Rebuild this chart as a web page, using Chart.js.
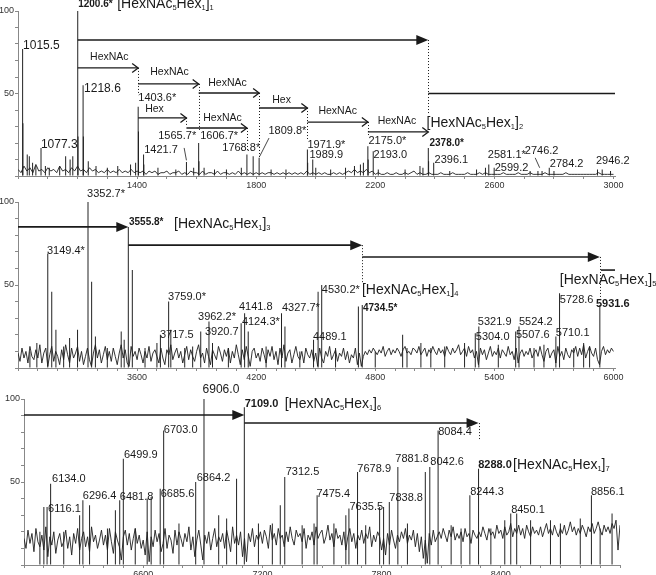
<!DOCTYPE html>
<html>
<head>
<meta charset="utf-8">
<script src="https://cdn.jsdelivr.net/npm/chart.js@4.4.1/dist/chart.umd.min.js"></script>
<style>
  body { margin: 0; background: #fff; }
  #wrap { position: relative; width: 656px; height: 575px; }
  canvas { position: absolute; left: 0; }
</style>
</head>
<body>
<div id="wrap">
  <canvas id="c1" width="656" height="190" style="top:0;width:656px;height:190px"></canvas>
  <canvas id="c2" width="656" height="198" style="top:184px;width:656px;height:198px"></canvas>
  <canvas id="c3" width="656" height="199" style="top:376px;width:656px;height:199px"></canvas>
</div>
<script>
// MALDI spectrum, three m/z ranges

// panel 1: m/z 1000-3000
const p1Mz  = [1015.5, 1016.5, 1031, 1038, 1049, 1060, 1077.3, 1092, 1105, 1140, 1160, 1175, 1184,
  1200.6, 1201.6, 1218.6, 1219.6, 1236, 1262, 1300, 1335, 1378, 1395, 1403.6, 1404.6, 1421.7, 1422.7,
  1470, 1530, 1565.7, 1590, 1606.7, 1607.7, 1625, 1660, 1700, 1750, 1768.8, 1789.8, 1809.8, 1850, 1900,
  1971.9, 1972.9, 1989.9, 2000, 2050, 2100, 2130, 2150, 2160, 2175.0, 2176.0, 2193.0, 2210, 2300, 2350,
  2360, 2378.0, 2379.0, 2396.1, 2450, 2540, 2570, 2581.1, 2599.2, 2720, 2746.2, 2760, 2784.2, 2800,
  2946.2, 2962, 2990];
const p1Int = [77, 32, 13, 12, 8, 6, 17, 6, 5, 6, 12, 10, 12,
  100, 24, 55, 24, 9, 6, 5, 6, 7, 8, 42, 27, 13, 7,
  5, 4, 8.5, 5, 20, 9, 5, 4, 4, 5, 13, 12, 11, 4, 4,
  16, 8, 10, 5, 4, 5, 6, 7, 8, 18, 10, 15, 4, 4, 6,
  5, 17, 9, 8, 3, 4, 5, 7, 5, 3, 3, 3, 5, 3,
  4, 4, 3];
// baselines sampled every 10 m/z from the panel start
const p1Noise = [4, 2, 6, 3, 5, 2, 7, 3, 4, 2,
  5, 3, 4, 2, 6, 3, 4, 2, 5, 3,
  6, 3, 4, 2, 5, 3, 4, 2, 3, 2,
  4, 2, 3, 2, 4, 2, 3, 2, 4, 2,
  3, 2, 3, 1, 3, 2, 3, 1, 2, 2,
  3, 1, 2, 2, 3, 1, 2, 1, 3, 2,
  2, 1, 3, 1, 2, 2, 1, 3, 1, 2,
  2, 1, 2, 1, 3, 1, 2, 1, 2, 1,
  2, 1, 2, 1, 2, 2, 1, 2, 1, 2,
  1, 2, 1, 2, 1, 2, 1, 3, 1, 2,
  1, 2, 1, 2, 1, 1, 2, 1, 2, 1,
  2, 3, 2, 4, 2, 3, 2, 4, 2, 3,
  1, 2, 1, 1, 2, 1, 1, 2, 1, 1,
  2, 1, 2, 3, 1, 2, 1, 1, 2, 1,
  1, 1, 2, 1, 1, 1, 2, 1, 1, 1,
  1, 2, 1, 1, 1, 2, 1, 2, 1, 1,
  1, 1, 1, 2, 1, 1, 1, 1, 2, 1,
  1, 1, 2, 1, 1, 1, 1, 2, 1, 1,
  1, 1, 1, 1, 2, 1, 1, 1, 1, 1,
  1, 1, 1, 1, 1, 2, 1, 1, 1, 1,
  1];

// panel 2: m/z 3000-6000
const p2Mz  = [3060, 3095, 3150, 3170, 3191, 3230, 3260, 3300, 3352.7, 3371, 3390, 3450, 3520, 3535,
  3555.8, 3576, 3640, 3700, 3717.5, 3759.0, 3770, 3840, 3880, 3920.7, 3962.2, 3980, 4060, 4124.3,
  4141.8, 4160, 4250, 4327.7, 4345, 4420, 4489.1, 4512, 4530.2, 4600, 4715, 4734.5, 4800, 4938, 4960,
  5030, 5080, 5150, 5250, 5304.0, 5321.9, 5420, 5507.6, 5524.2, 5600, 5650, 5710.1, 5728.6, 5800,
  5850, 5880, 5931.6];
const p2Int = [10, 15, 69, 46, 23, 13, 18, 23, 100, 52, 19, 12, 22, 17,
  85, 59, 12, 15, 20, 40, 23, 12, 13, 22, 28, 15, 12, 27,
  33, 22, 13, 33, 25, 10, 17, 46, 50, 12, 37, 38, 10, 20, 12,
  15, 12, 13, 15, 21, 25, 14, 22, 25, 12, 14, 19, 45, 12,
  15, 13, 38];
const p2Noise = [9, 4, 12, 6, 10, 3, 13, 7, 5, 11,
  6, 14, 3, 9, 12, 1, 8, 13, 4, 10,
  7, 2, 11, 5, 14, 8, 3, 12, 6, 9,
  13, 4, 10, 2, 7, 12, 5, 1, 9, 14,
  6, 11, 3, 8, 13, 5, 10, 4, 12, 7,
  2, 9, 14, 6, 11, 3, 1, 13, 7, 10,
  5, 12, 8, 3, 10, 6, 13, 4, 9, 11,
  7, 3, 12, 6, 2, 11, 8, 14, 5, 9,
  12, 6, 10, 3, 8, 13, 5, 11, 7, 4,
  10, 14, 6, 9, 3, 12, 7, 2, 11, 8,
  5, 13, 9, 4, 11, 7, 12, 3, 10, 6,
  14, 8, 2, 11, 5, 13, 7, 1, 10, 12,
  6, 9, 4, 12, 8, 3, 11, 7, 13, 5,
  10, 2, 12, 6, 14, 4, 9, 11, 3, 8,
  13, 7, 5, 10, 3, 12, 8, 6, 11, 4,
  9, 1, 12, 6, 3, 10, 7, 13, 5, 8,
  11, 4, 9, 7, 12, 5, 10, 3, 8, 6,
  12, 2, 9, 1, 7, 10, 8, 11, 9, 12,
  10, 8, 11, 9, 13, 7, 10, 12, 8, 11,
  9, 12, 10, 7, 11, 13, 9, 10, 8, 12,
  11, 9, 13, 8, 10, 12, 7, 11, 9, 13,
  10, 8, 12, 9, 11, 7, 13, 10, 8, 12,
  9, 11, 14, 8, 10, 12, 7, 13, 9, 11,
  6, 10, 2, 12, 8, 11, 5, 9, 13, 7,
  10, 8, 12, 6, 11, 9, 7, 13, 8, 10,
  5, 12, 3, 9, 11, 7, 10, 8, 12, 6,
  9, 11, 7, 13, 8, 4, 10, 12, 6, 9,
  11, 3, 13, 7, 10, 5, 12, 8, 6, 11,
  9, 13, 7, 12, 8, 14, 6, 10, 13, 9,
  7, 12, 5, 2, 10, 13, 8, 11, 9, 12,
  10];

// panel 3: m/z 6000-9000
const p3Mz  = [6080, 6100, 6116.1, 6134.0, 6200, 6280, 6296.4, 6330, 6420, 6460, 6481.8, 6499.9, 6560,
  6620, 6640, 6685.6, 6703.0, 6780, 6864.2, 6906.0, 6980, 7020, 7070, 7109.0, 7180, 7250, 7290, 7312.5,
  7400, 7460, 7475.4, 7560, 7620, 7635.5, 7678.9, 7720, 7790, 7810, 7838.8, 7881.8, 7930, 8020, 8042.6,
  8084.4, 8150, 8200, 8244.3, 8288.0, 8350, 8420, 8450.1, 8480, 8550, 8650, 8700, 8800, 8856.1, 8900, 8960];
const p3Int = [20, 35, 35, 49, 20, 30, 39, 36, 22, 33, 39, 64, 22,
  40, 41, 46, 81, 25, 50, 100, 30, 28, 52, 95, 25, 25, 36, 53,
  24, 25, 42, 25, 30, 34, 56, 24, 35, 35, 38, 59, 25, 56, 59,
  81, 24, 22, 42, 58, 22, 27, 31, 31, 27, 27, 25, 28, 42, 22, 31];
const p3Noise = [16, 10, 21, 13, 19, 8, 22, 14, 11, 18,
  9, 23, 5, 17, 12, 20, 7, 15, 19, 11,
  14, 21, 10, 17, 6, 19, 13, 22, 9, 16,
  20, 11, 17, 8, 23, 14, 18, 10, 15, 21,
  12, 18, 9, 22, 14, 7, 20, 15, 11, 3,
  17, 21, 12, 19, 9, 16, 22, 13, 18, 10,
  15, 6, 20, 2, 17, 11, 21, 14, 19, 8,
  13, 22, 10, 18, 15, 7, 21, 12, 20, 16,
  11, 19, 14, 23, 9, 17, 5, 15, 21, 12,
  3, 18, 13, 20, 9, 16, 22, 11, 17, 14,
  19, 10, 21, 15, 8, 23, 13, 18, 12, 20,
  5, 16, 2, 19, 14, 22, 11, 18, 15, 20,
  13, 21, 17, 10, 24, 15, 19, 12, 22, 16,
  18, 11, 20, 14, 23, 16, 12, 21, 17, 19,
  14, 22, 10, 18, 15, 20, 12, 23, 16, 19,
  21, 13, 17, 24, 15, 19, 11, 22, 16, 18,
  12, 20, 9, 17, 22, 14, 19, 10, 18, 15,
  21, 13, 19, 16, 23, 11, 18, 14, 20, 17,
  9, 16, 6, 19, 12, 21, 15, 10, 18, 14,
  20, 16, 22, 13, 18, 15, 21, 11, 19, 8,
  17, 4, 15, 1, 19, 12, 21, 14, 17, 20,
  16, 22, 18, 14, 21, 17, 23, 15, 19, 16,
  20, 14, 22, 17, 19, 13, 21, 18, 16, 20,
  17, 23, 19, 15, 22, 18, 20, 16, 24, 19,
  21, 16, 23, 18, 20, 25, 17, 22, 19, 24,
  18, 22, 16, 24, 20, 17, 23, 19, 21, 18,
  23, 17, 21, 25, 19, 22, 18, 24, 20, 17,
  22, 19, 24, 18, 21, 26, 20, 23, 18, 22,
  19, 24, 21, 17, 23, 20, 25, 19, 22, 26,
  21, 18, 24, 20, 23, 19, 25, 22, 27, 9,
  24];
const noiseStep = 10;

const FONT = 'Arial, "Liberation Sans", sans-serif';
const INK = '#1a1a1a';

// annotations (m/z, relative intensity)
const p1Notes = {
  labels: [
    { x: 1017, y: 79, t: '1015.5', size: 12 },
    { x: 1077, y: 19, t: '1077.3', size: 12 },
    { x: 1202, y: 104, t: '1200.6*', bold: true },
    { x: 1222, y: 53, t: '1218.6', size: 12 },
    { x: 1404, y: 47, t: '1403.6*' },
    { x: 1424, y: 16, t: '1421.7' },
    { x: 1471, y: 24, t: '1565.7*' },
    { x: 1612, y: 24, t: '1606.7*' },
    { x: 1686, y: 17, t: '1768.8*' },
    { x: 1841, y: 27, t: '1809.8*' },
    { x: 1972, y: 19, t: '1971.9*' },
    { x: 1979, y: 13, t: '1989.9' },
    { x: 2177, y: 21, t: '2175.0*' },
    { x: 2194, y: 13, t: '2193.0' },
    { x: 2382, y: 20, t: '2378.0*', bold: true },
    { x: 2399, y: 10, t: '2396.1' },
    { x: 2578, y: 13, t: '2581.1*' },
    { x: 2601, y: 5, t: '2599.2' },
    { x: 2702, y: 15, t: '2746.2' },
    { x: 2786, y: 7, t: '2784.2' },
    { x: 2941, y: 9, t: '2946.2' },
    { x: 1242, y: 72, t: 'HexNAc', size: 10.5 },
    { x: 1444, y: 63, t: 'HexNAc', size: 10.5 },
    { x: 1639, y: 56.4, t: 'HexNAc', size: 10.5 },
    { x: 1854, y: 46, t: 'Hex', size: 10.5 },
    { x: 2009, y: 39.4, t: 'HexNAc', size: 10.5 },
    { x: 2208, y: 33.3, t: 'HexNAc', size: 10.5 },
    { x: 1427, y: 40.6, t: 'Hex', size: 10.5 },
    { x: 1622, y: 35.2, t: 'HexNAc', size: 10.5 }
  ],
  glycans: [
    { x: 1333, y: 104, n: '1' },
    { x: 2372, y: 32, n: '2' }
  ],
  arrows: [
    { x1: 1200.6, x2: 2378.0, y: 82.4, head: 'fill' },
    { x1: 1200.6, x2: 1403.6, y: 65.5, head: 'open' },
    { x1: 1403.6, x2: 1606.7, y: 55.8, head: 'open' },
    { x1: 1606.7, x2: 1809.8, y: 50.3, head: 'open' },
    { x1: 1809.8, x2: 1971.9, y: 41.2, head: 'open' },
    { x1: 1971.9, x2: 2175.0, y: 32.7, head: 'open' },
    { x1: 2175.0, x2: 2378.0, y: 26.7, head: 'open' },
    { x1: 1403.6, x2: 1565.7, y: 35.2, head: 'open' },
    { x1: 1565.7, x2: 1768.8, y: 29.1, head: 'open' }
  ],
  lines: [ { x1: 2378.0, x2: 3005, y: 50 } ],
  dotted: [
    { x: 2378.0, y1: 82.4, y2: 37 },
    { x: 1403.6, y1: 65.5, y2: 49 },
    { x: 1606.7, y1: 55.8, y2: 27 },
    { x: 1809.8, y1: 50.3, y2: 11 },
    { x: 1971.9, y1: 41.2, y2: 22 },
    { x: 2175.0, y1: 32.7, y2: 24 },
    { x: 1565.7, y1: 35.2, y2: 30 },
    { x: 1768.8, y1: 29.1, y2: 15 }
  ],
  leaders: [
    { x1: 1558, y1: 17, x2: 1565.7, y2: 9.5 },
    { x1: 1843, y1: 23, x2: 1812, y2: 12 },
    { x1: 2737, y1: 11, x2: 2752, y2: 5 }
  ]
};

const p2Notes = {
  labels: [
    { x: 3348, y: 104.8, t: '3352.7*' },
    { x: 3146, y: 70.5, t: '3149.4*' },
    { x: 3559, y: 88, t: '3555.8*', bold: true },
    { x: 3756, y: 42.8, t: '3759.0*' },
    { x: 3715, y: 19.9, t: '3717.5' },
    { x: 3907, y: 30.7, t: '3962.2*' },
    { x: 3942, y: 21.7, t: '3920.7' },
    { x: 4113, y: 36.7, t: '4141.8' },
    { x: 4128, y: 27.7, t: '4124.3*' },
    { x: 4330, y: 36.1, t: '4327.7*' },
    { x: 4486, y: 18.7, t: '4489.1' },
    { x: 4531, y: 47, t: '4530.2*' },
    { x: 4738, y: 36.1, t: '4734.5*', bold: true },
    { x: 5317, y: 27.7, t: '5321.9' },
    { x: 5307, y: 18.7, t: '5304.0' },
    { x: 5524, y: 27.7, t: '5524.2' },
    { x: 5509, y: 19.9, t: '5507.6' },
    { x: 5730, y: 41, t: '5728.6' },
    { x: 5710, y: 21.1, t: '5710.1' },
    { x: 5912, y: 38.6, t: '5931.6', bold: true, size: 11 }
  ],
  glycans: [
    { x: 3786, y: 86.7, n: '3' },
    { x: 4733, y: 47, n: '4' },
    { x: 5730, y: 53, n: '5' }
  ],
  arrows: [
    { x1: 3000, x2: 3555.8, y: 85, head: 'fill' },
    { x1: 3555.8, x2: 4734.5, y: 74, head: 'fill' },
    { x1: 4734.5, x2: 5931.6, y: 66.9, head: 'fill' }
  ],
  lines: [ { x1: 5937, x2: 6008, y: 59 } ],
  dotted: [
    { x: 4734.5, y1: 74, y2: 51 },
    { x: 5931.6, y1: 66.9, y2: 41 }
  ],
  leaders: []
};

const p3Notes = {
  labels: [
    { x: 6899, y: 105.4, t: '6906.0', size: 12 },
    { x: 7111, y: 97, t: '7109.0', bold: true, size: 11 },
    { x: 6704, y: 81.3, t: '6703.0' },
    { x: 6503, y: 66.3, t: '6499.9' },
    { x: 6141, y: 51.8, t: '6134.0' },
    { x: 6869, y: 52.4, t: '6864.2' },
    { x: 7317, y: 56, t: '7312.5' },
    { x: 6296, y: 41.6, t: '6296.4' },
    { x: 6688, y: 42.8, t: '6685.6' },
    { x: 6121, y: 33.7, t: '6116.1' },
    { x: 6482, y: 41, t: '6481.8' },
    { x: 7472, y: 42.8, t: '7475.4' },
    { x: 7638, y: 35, t: '7635.5' },
    { x: 7678, y: 57.8, t: '7678.9' },
    { x: 7869, y: 63.9, t: '7881.8' },
    { x: 8045, y: 62, t: '8042.6' },
    { x: 7839, y: 40.4, t: '7838.8' },
    { x: 8085, y: 80.1, t: '8084.4' },
    { x: 8286, y: 60.2, t: '8288.0', bold: true, size: 11 },
    { x: 8246, y: 44, t: '8244.3' },
    { x: 8452, y: 33.1, t: '8450.1' },
    { x: 8854, y: 44, t: '8856.1' }
  ],
  glycans: [
    { x: 7312, y: 97, n: '6' },
    { x: 8462, y: 60.2, n: '7' }
  ],
  arrows: [
    { x1: 6000, x2: 7109.0, y: 90.4, head: 'fill' },
    { x1: 7109.0, x2: 8288.0, y: 85.5, head: 'fill' }
  ],
  lines: [],
  dotted: [ { x: 8288.0, y1: 85.5, y2: 75 } ],
  leaders: []
};

// draws arrows, dotted drops and peak labels on top of the spectrum
const notesPlugin = {
  id: 'notes',
  afterDatasetsDraw(chart, args, opts) {
    const ctx = chart.ctx;
    const px = v => chart.scales.x.getPixelForValue(v);
    const py = v => chart.scales.y.getPixelForValue(v);
    ctx.save();
    ctx.strokeStyle = INK;
    ctx.fillStyle = INK;

    ctx.lineWidth = 1;
    ctx.setLineDash([1, 2]);
    (opts.dotted || []).forEach(d => {
      const x = Math.round(px(d.x)) + 0.5;
      ctx.beginPath(); ctx.moveTo(x, py(d.y1)); ctx.lineTo(x, py(d.y2)); ctx.stroke();
    });
    ctx.setLineDash([]);

    ctx.lineWidth = 1.6;
    (opts.lines || []).forEach(l => {
      ctx.beginPath(); ctx.moveTo(px(l.x1), py(l.y)); ctx.lineTo(px(l.x2), py(l.y)); ctx.stroke();
    });

    (opts.arrows || []).forEach(a => {
      const x1 = px(a.x1), x2 = px(a.x2), y = py(a.y);
      if (a.head === 'fill') {
        ctx.lineWidth = 1.6;
        ctx.beginPath(); ctx.moveTo(x1, y); ctx.lineTo(x2 - 8, y); ctx.stroke();
        ctx.beginPath(); ctx.moveTo(x2, y); ctx.lineTo(x2 - 12, y - 5); ctx.lineTo(x2 - 12, y + 5);
        ctx.closePath(); ctx.fill();
      } else {
        ctx.lineWidth = 1.3;
        ctx.beginPath(); ctx.moveTo(x1, y); ctx.lineTo(x2, y); ctx.stroke();
        ctx.beginPath(); ctx.moveTo(x2 - 6, y - 4.5); ctx.lineTo(x2, y); ctx.lineTo(x2 - 6, y + 4.5); ctx.stroke();
      }
    });

    ctx.lineWidth = 0.8;
    (opts.leaders || []).forEach(l => {
      ctx.beginPath(); ctx.moveTo(px(l.x1), py(l.y1)); ctx.lineTo(px(l.x2), py(l.y2)); ctx.stroke();
    });

    ctx.textBaseline = 'middle';
    ctx.textAlign = 'left';
    (opts.labels || []).forEach(l => {
      const size = l.size || (l.bold ? 10 : 11);
      ctx.font = (l.bold ? 'bold ' : '') + size + 'px ' + FONT;
      ctx.fillText(l.t, px(l.x), py(l.y));
    });

    (opts.glycans || []).forEach(g => {
      let x = px(g.x);
      const y = py(g.y);
      const parts = [['[HexNAc', 14, 0], ['5', 7.5, 4], ['Hex', 14, 0], ['1', 7.5, 4], [']', 14, 0], [g.n, 7.5, 4]];
      parts.forEach(p => {
        ctx.font = p[1] + 'px ' + FONT;
        ctx.fillText(p[0], x, y + p[2]);
        x += ctx.measureText(p[0]).width;
      });
    });
    ctx.restore();
  }
};

function makeSpectrum(id, opt) {
  const peaks = opt.mz.map((m, i) => ({ x: m, y: opt.inten[i] }));
  const noise = opt.noise.map((v, i) => ({ x: opt.xMin + i * noiseStep, y: v }));
  return new Chart(document.getElementById(id), {
    type: 'bar',
    data: {
      datasets: [
        { type: 'line', data: noise, borderColor: '#1e1e1e', borderWidth: 0.9,
          pointRadius: 0, tension: 0, fill: false },
        { type: 'bar', data: peaks, backgroundColor: '#222', borderWidth: 0,
          barThickness: 1, inflateAmount: 0 }
      ]
    },
    options: {
      responsive: false,
      animation: false,
      devicePixelRatio: 1,
      layout: { padding: { left: 0, top: opt.padTop, right: opt.padRight, bottom: 0 } },
      plugins: { legend: { display: false }, tooltip: { enabled: false }, notes: opt.notes },
      scales: {
        x: {
          type: 'linear', min: opt.xMin, max: opt.xMax, offset: false,
          grid: { drawOnChartArea: false, tickLength: 3, color: '#888', offset: false },
          border: { color: '#888', width: 1 },
          ticks: {
            autoSkip: false, maxRotation: 0, padding: 1,
            color: '#333', font: { size: 9, family: FONT },
            callback: v => opt.showX(Math.round(v)) ? String(Math.round(v)) : ''
          },
          // minor ticks every 100 m/z
          afterBuildTicks: s => {
            const t = [];
            for (let v = opt.xMin; v <= opt.xMax; v += 100) t.push({ value: v });
            s.ticks = t;
          },
          afterFit: s => { s.height = opt.xHeight; }
        },
        y: {
          min: 0, max: 100,
          grid: { drawOnChartArea: false, tickLength: 3, color: '#888' },
          border: { color: '#888', width: 1 },
          ticks: {
            padding: 1, color: '#333', font: { size: 9, family: FONT },
            callback: v => (v === 50 || v === 100) ? String(v) : ''
          },
          afterBuildTicks: s => {
            const t = [];
            for (let v = 0; v <= 100; v += 10) t.push({ value: v });
            s.ticks = t;
          },
          afterFit: s => { s.width = opt.yWidth; }
        }
      }
    },
    plugins: [notesPlugin]
  });
}

makeSpectrum('c1', {
  mz: p1Mz, inten: p1Int, noise: p1Noise, xMin: 1000, xMax: 3005,
  showX: v => v >= 1400 && (v - 1400) % 400 === 0,
  padTop: 11, padRight: 41, xHeight: 14, yWidth: 18, notes: p1Notes
});
makeSpectrum('c2', {
  mz: p2Mz, inten: p2Int, noise: p2Noise, xMin: 3000, xMax: 6008,
  showX: v => v >= 3600 && (v - 3600) % 600 === 0,
  padTop: 18, padRight: 41, xHeight: 14, yWidth: 18, notes: p2Notes
});
makeSpectrum('c3', {
  mz: p3Mz, inten: p3Int, noise: p3Noise, xMin: 6000, xMax: 9000,
  showX: v => v >= 6600 && v <= 8400 && (v - 6600) % 600 === 0,
  padTop: 23, padRight: 36, xHeight: 10, yWidth: 24, notes: p3Notes
});
</script>
</body>
</html>
